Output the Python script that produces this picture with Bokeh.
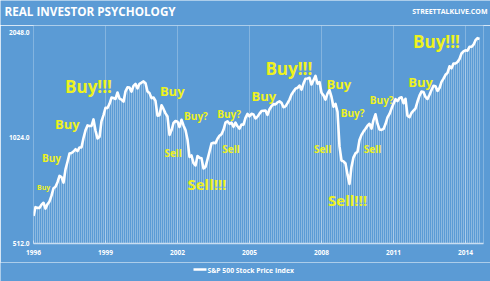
from bokeh.plotting import figure
from bokeh.layouts import column
from bokeh.models import Range1d, FixedTicker, CustomJSTickFormatter, ColumnDataSource
from bokeh.embed import file_html
from bokeh.resources import INLINE
from bokeh.core.properties import value

# ---------------- data ----------------
start_year = 1996
sp500 = [
    614, 650, 647, 647, 661, 669, 644, 663, 675, 701, 736, 743,          # 1996
    766, 798, 792, 764, 833, 876, 925, 928, 937, 951, 939, 962,          # 1997
    963, 1024, 1077, 1112, 1108, 1108, 1157, 1075, 1021, 1032, 1144, 1190,  # 1998
    1249, 1247, 1282, 1335, 1332, 1323, 1381, 1327, 1318, 1300, 1391, 1429,  # 1999
    1426, 1389, 1442, 1461, 1418, 1462, 1473, 1485, 1468, 1390, 1375, 1331,  # 2000
    1336, 1306, 1186, 1190, 1270, 1239, 1204, 1179, 1045, 1077, 1130, 1145,  # 2001
    1140, 1101, 1154, 1112, 1079, 1014, 904, 913, 868, 855, 910, 899,    # 2002
    896, 838, 847, 890, 936, 988, 993, 990, 1019, 1039, 1050, 1081,      # 2003
    1133, 1143, 1124, 1133, 1102, 1133, 1106, 1089, 1118, 1118, 1169, 1199,  # 2004
    1181, 1200, 1195, 1164, 1178, 1202, 1222, 1224, 1226, 1192, 1237, 1262,  # 2005
    1279, 1277, 1294, 1302, 1290, 1253, 1260, 1287, 1318, 1363, 1389, 1416,  # 2006
    1424, 1445, 1407, 1464, 1511, 1514, 1521, 1455, 1497, 1540, 1463, 1479,  # 2007
    1379, 1355, 1317, 1370, 1403, 1341, 1257, 1281, 1217, 969, 883, 878,  # 2008
    866, 805, 757, 848, 902, 926, 936, 1010, 1045, 1068, 1088, 1110,     # 2009
    1124, 1089, 1152, 1197, 1125, 1083, 1080, 1087, 1122, 1172, 1199, 1242,  # 2010
    1283, 1321, 1304, 1332, 1338, 1287, 1325, 1185, 1174, 1207, 1226, 1243,  # 2011
    1301, 1352, 1389, 1386, 1341, 1323, 1360, 1403, 1443, 1438, 1395, 1422,  # 2012
    1480, 1512, 1551, 1571, 1640, 1619, 1669, 1670, 1687, 1720, 1784, 1808,  # 2013
    1822, 1817, 1864, 1864, 1890, 1947, 1973, 1962,                      # 2014
]
dates = [start_year + i / 12 for i in range(len(sp500))]

x_ticks = [1996, 1999, 2002, 2005, 2008, 2011, 2014]
y_ticks = [512, 1024, 2048]

note_text = ["Buy", "Buy", "Buy", "Buy!!!", "Buy", "Buy?", "Sell", "Buy?", "Sell",
             "Sell!!!", "Buy", "Buy!!!", "Buy", "Buy?", "Sell", "Sell!!!", "Sell",
             "Buy?", "Buy", "Buy!!!"]
note_year = [1996.42, 1996.75, 1997.41, 1998.29, 2001.78, 2002.77, 2001.82, 2004.15,
             2004.23, 2003.23, 2005.60, 2006.64, 2008.72, 2009.30, 2008.05, 2009.09,
             2010.13, 2010.51, 2012.13, 2012.79]
note_level = [740, 895, 1126, 1436, 1390, 1187, 925, 1195, 950, 759, 1353, 1617,
              1456, 1210, 950, 683, 950, 1318, 1484, 1933]
note_size = ["7px", "10px", "13px", "17px", "13px", "10px", "10px", "10px", "10px",
             "15px", "13px", "17px", "13px", "10px", "10px", "15px", "10px", "10px",
             "13px", "17px"]

title_text = "REAL INVESTOR PSYCHOLOGY"
site_text = "STREETTALKLIVE.COM"
series_name = "S&P 500 Stock Price Index"

# ---------------- styling ----------------
BG = "#5b9bd5"
FONT = "Open Sans"
W = 490


def no_align(f):
    if "frame_align" in f.properties():
        f.frame_align = False
    return f


def strip(height, y_top):
    """A thin, axis-less figure in pixel units (y grows downward)."""
    f = figure(width=W, height=height, x_range=Range1d(0, W),
               y_range=Range1d(y_top + height, y_top),
               x_axis_location=None, y_axis_location=None,
               output_backend="svg", toolbar_location=None, min_border=0,
               min_border_left=0, min_border_right=0, min_border_top=0,
               min_border_bottom=0)
    f.grid.visible = False
    f.outline_line_color = None
    f.background_fill_color = BG
    f.border_fill_color = BG
    return no_align(f)


# ---------------- header ----------------
hdr = strip(25, 0)
hdr.text(x=[4], y=[10.5], text=[title_text], text_font=value(FONT),
         text_font_size="11.7px", text_font_style="bold", text_color="white",
         text_baseline="middle")
hdr.text(x=[487], y=[10.5], text=[site_text], text_font=value(FONT),
         text_font_size="7px", text_font_style="bold", text_color="white",
         text_baseline="middle", text_align="right")

# ---------------- main chart ----------------
p = figure(width=W, height=237, y_axis_type="log",
           x_range=Range1d(1996, 2014.75), y_range=Range1d(512, 2144),
           output_backend="svg", toolbar_location=None,
           min_border_left=33, min_border_right=7, min_border_top=0,
           min_border_bottom=19)
no_align(p)
p.background_fill_color = BG
p.border_fill_color = BG
p.outline_line_color = None

src = ColumnDataSource(dict(x=dates, y=sp500, base=[y_ticks[0]] * len(sp500)))
p.segment(x0="x", y0="base", x1="x", y1="y", source=src,
          line_color="white", line_alpha=0.3, line_width=1)
p.line("x", "y", source=src, line_color="white", line_width=2.6, line_join="round")

nsrc = ColumnDataSource(dict(x=note_year, y=note_level, t=note_text, s=note_size))
p.text("x", "y", text="t", source=nsrc, text_font=value(FONT),
       text_font_size="s", text_font_style="bold", text_color="#eef21e",
       text_align="center", text_baseline="middle")

p.xaxis.ticker = FixedTicker(ticks=x_ticks)
p.yaxis.ticker = FixedTicker(ticks=y_ticks)
p.yaxis.formatter = CustomJSTickFormatter(code="return tick.toFixed(1);")
for ax in (p.xaxis[0], p.yaxis[0]):
    ax.major_label_text_color = "white"
    ax.major_label_text_font = FONT
    ax.major_label_text_font_size = "6.5px"
    ax.major_label_text_font_style = "bold"
    ax.minor_tick_line_color = None
p.xaxis.axis_line_color = "#c9def2"
p.xaxis.axis_line_width = 1.5
p.xaxis.major_tick_line_color = "#c9def2"
p.xaxis.major_tick_in = 3
p.xaxis.major_tick_out = 0
p.xaxis.major_label_standoff = 6
p.yaxis.axis_line_color = None
p.yaxis.major_tick_line_color = None
p.yaxis.major_tick_out = 0
p.yaxis.major_tick_in = 0
p.yaxis.major_label_standoff = 4

p.xgrid.ticker = FixedTicker(ticks=x_ticks)
p.xgrid.grid_line_color = "white"
p.xgrid.grid_line_alpha = 0.25
p.ygrid.grid_line_color = None

# ---------------- footer (legend) ----------------
ftr = strip(19, 262)
ftr.line(x=[193, 206], y=[269, 269], line_color="white", line_width=2.5)
ftr.text(x=[207], y=[269.5], text=[series_name], text_font=value(FONT),
         text_font_size="6.8px", text_font_style="bold", text_color="white",
         text_baseline="middle")

layout = column(hdr, p, ftr, spacing=0)
open("out.html", "w").write(file_html(layout, INLINE))
